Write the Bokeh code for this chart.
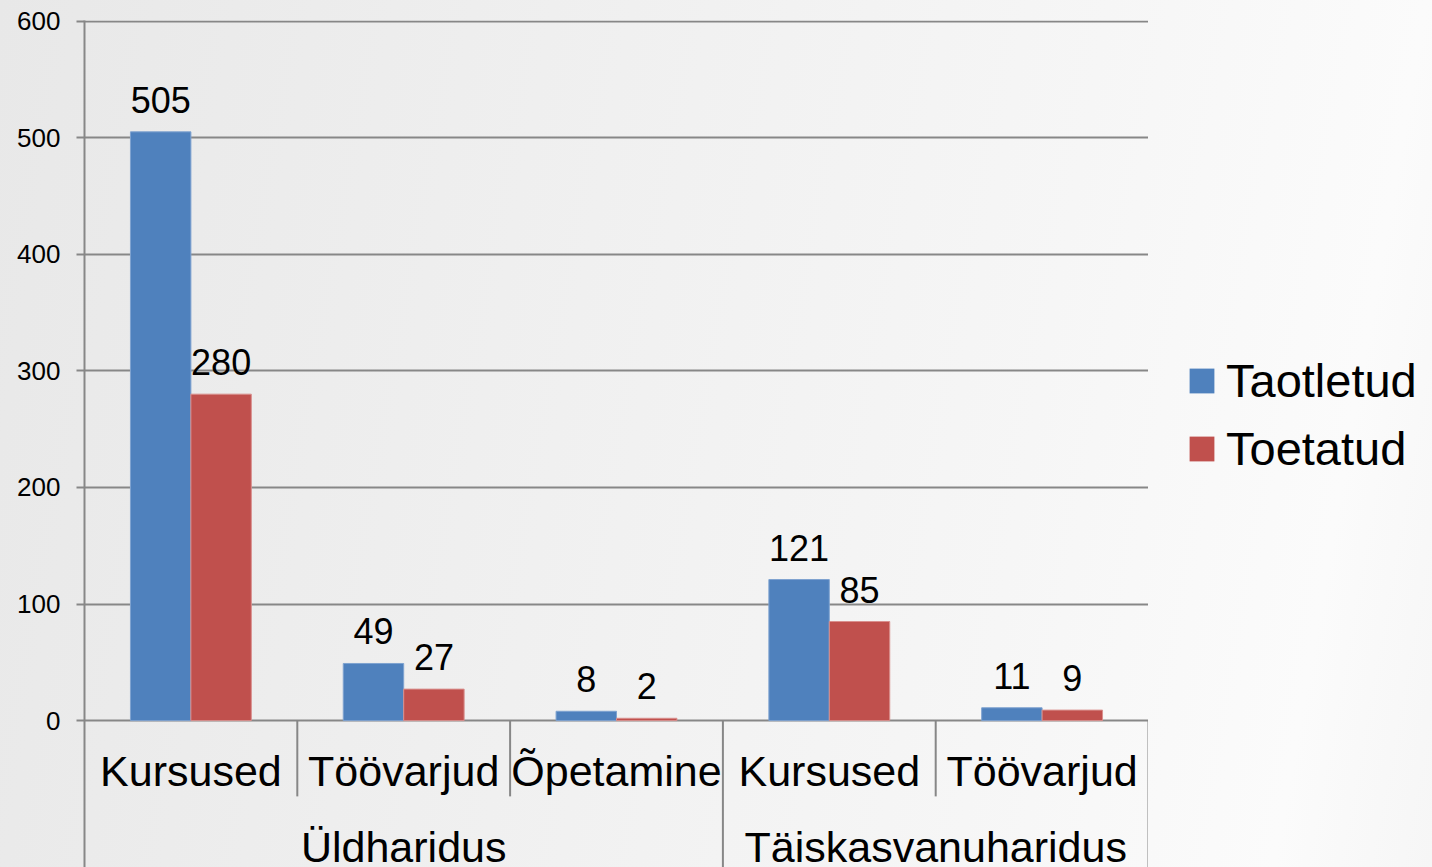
from bokeh.plotting import figure
from bokeh.layouts import row
from bokeh.models import (FactorRange, Range1d, FixedTicker, ColumnDataSource,
                          Legend, LegendItem)
from bokeh.transform import dodge
from bokeh.core.properties import value
from bokeh.embed import file_html
from bokeh.resources import INLINE

# ---- data ----
groups = ["Üldharidus", "Üldharidus", "Üldharidus",
          "Täiskasvanuharidus", "Täiskasvanuharidus"]
subcats = ["Kursused", "Töövarjud", "Õpetamine", "Kursused", "Töövarjud"]
taotletud = [505, 49, 8, 121, 11]
toetatud = [280, 27, 2, 85, 9]
series_names = ["Taotletud", "Toetatud"]
y_ticks = [0, 100, 200, 300, 400, 500, 600]

BLUE = "#4F81BD"
RED = "#C0504D"
GRID = "#878787"
FONT = "Liberation Sans"

factors = list(zip(groups, subcats))
group_names = list(dict.fromkeys(groups))

src = ColumnDataSource(dict(
    x=factors,
    a=taotletud, b=toetatud,
    la=[str(v) for v in taotletud], lb=[str(v) for v in toetatud],
))

x_range = FactorRange(factors=factors, range_padding=0, factor_padding=0,
                      group_padding=0, subgroup_padding=0)
y_range = Range1d(-126, 600.5)

p = figure(width=1148, height=867, x_range=x_range, y_range=y_range,
           output_backend="svg", toolbar_location=None,
           min_border_left=84, min_border_top=20, min_border_bottom=0,
           min_border_right=0)
p.background_fill_alpha = 0
p.border_fill_alpha = 0
p.outline_line_color = None

# y axis
p.xaxis.visible = False
p.yaxis.ticker = FixedTicker(ticks=y_ticks)
p.yaxis.axis_line_color = GRID
p.yaxis.axis_line_width = 2
p.yaxis.major_tick_line_color = GRID
p.yaxis.major_tick_line_width = 2
p.yaxis.major_tick_out = 8
p.yaxis.major_tick_in = 0
p.yaxis.minor_tick_line_color = None
p.yaxis.major_label_text_font = FONT
p.yaxis.major_label_text_font_size = "26px"
p.yaxis.major_label_text_color = "black"
p.yaxis.major_label_standoff = 16

p.xgrid.visible = False
p.ygrid.ticker = FixedTicker(ticks=y_ticks)
p.ygrid.grid_line_color = GRID
p.ygrid.grid_line_width = 2

W = 0.284
r1 = p.vbar(x=dodge("x", -W / 2, range=x_range), top="a", width=W, source=src,
            fill_color=BLUE, line_color="#7fa3d0", line_width=1)
r2 = p.vbar(x=dodge("x", W / 2, range=x_range), top="b", width=W, source=src,
            fill_color=RED, line_color="#d9908e", line_width=1)

# value labels
for col, lab, off in (("a", "la", -W / 2), ("b", "lb", W / 2)):
    p.text(x=dodge("x", off, range=x_range), y=col, text=lab, source=src,
           text_align="center", text_baseline="alphabetic", y_offset=-32,
           text_font=value(FONT), text_font_size="36px", text_color="black")

# category labels (level 1 and level 2)
p.text(x=factors, y=[0] * len(factors), text=subcats, y_offset=50,
       text_align="center", text_baseline="middle",
       text_font=value(FONT), text_font_size="43px", text_color="black")
p.text(x=group_names, y=[0] * len(group_names), text=group_names, y_offset=126,
       text_align="center", text_baseline="middle",
       text_font=value(FONT), text_font_size="43px", text_color="black")

# separators between categories
sub_x, grp_x = [], []
for i in range(1, len(factors) + 1):
    if i == len(factors) or groups[i] != groups[i - 1]:
        grp_x.append(i)
    else:
        sub_x.append(i)
p.segment(x0=sub_x, x1=sub_x, y0=[0] * len(sub_x), y1=[-65] * len(sub_x),
          line_color=GRID, line_width=2)
p.segment(x0=grp_x, x1=grp_x, y0=[0] * len(grp_x), y1=[-126] * len(grp_x),
          line_color=GRID, line_width=2)

# legend panel on the right (proxy renderers lie outside its visible range)
pl = figure(width=284, height=867, x_range=Range1d(0, 1), y_range=Range1d(0, 1),
            output_backend="svg", toolbar_location=None,
            min_border_left=0, min_border_right=0, min_border_top=0,
            min_border_bottom=0)
pl.axis.visible = False
pl.grid.visible = False
pl.background_fill_alpha = 0
pl.border_fill_alpha = 0
pl.outline_line_color = None
l1 = pl.vbar(x=[-5], top=[0], width=0.1, fill_color=BLUE, line_color=None)
l2 = pl.vbar(x=[-5], top=[0], width=0.1, fill_color=RED, line_color=None)

legend = Legend(items=[LegendItem(label=series_names[0], renderers=[l1]),
                       LegendItem(label=series_names[1], renderers=[l2])],
                location=(38, 391))
legend.background_fill_alpha = 0
legend.border_line_color = None
legend.glyph_width = 31
legend.glyph_height = 31
legend.label_standoff = 9
legend.spacing = 13
legend.label_text_font = FONT
legend.label_text_font_size = "47px"
legend.label_text_color = "black"
pl.add_layout(legend, "center")

layout = row(p, pl, spacing=0)

html = file_html(layout, INLINE)
style = ("<style>html,body{min-height:100%;}body{background:linear-gradient(100deg,"
         "#e8e8e8 0%,#efefef 35%,#f6f6f6 70%,#fbfbfb 90%,#f6f6f6 100%);}</style>")
html = html.replace("<head>", "<head>" + style, 1)
open("out.html", "w").write(html)
